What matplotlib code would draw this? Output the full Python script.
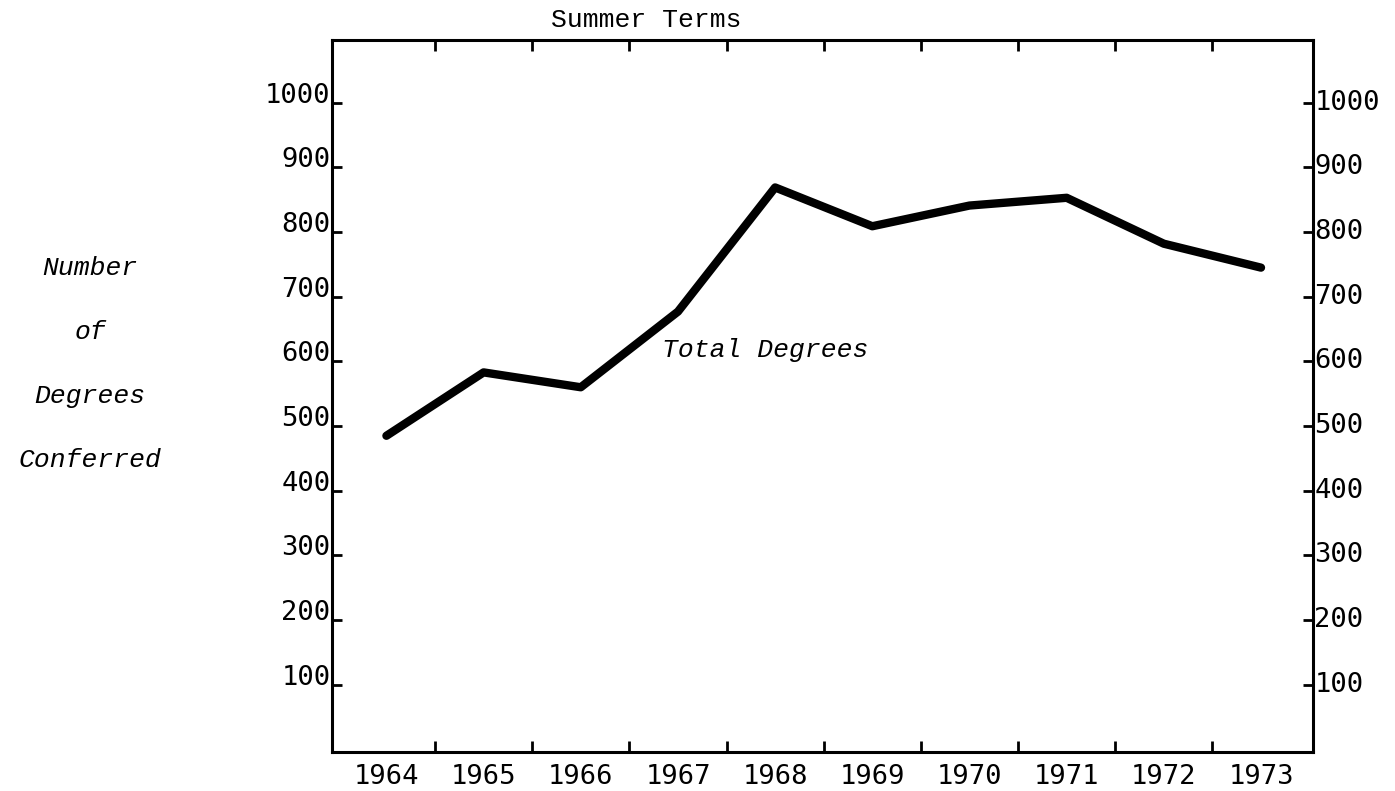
import matplotlib
matplotlib.use("Agg")
import matplotlib.pyplot as plt
import numpy as np

years = [1964, 1965, 1966, 1967, 1968, 1969, 1970, 1971, 1972, 1973]
total_degrees = [485, 583, 560, 677, 869, 809, 841, 853, 782, 745]
y_ticks = [100, 200, 300, 400, 500, 600, 700, 800, 900, 1000]
title = "Summer Terms"
series_label = "Total Degrees"
ylabel_lines = ["Number", "of", "Degrees", "Conferred"]

fig = plt.figure(figsize=(13.95, 7.91), dpi=100)
ax = fig.add_axes([332/1395, 1-752/791, (1313-332)/1395, (752-40)/791])

ax.plot(years, total_degrees, color="black", lw=6, solid_joinstyle="round", solid_capstyle="round")

ax.set_xlim(1963.44, 1973.535)
ax.set_ylim(-4, 1097)

for s in ax.spines.values():
    s.set_linewidth(2.2)

tick_family = "DejaVu Sans Mono"
tick_size = 19.5
mono = "Liberation Mono"

# x: labels at years, tick marks between years
ax.set_xticks(years)
ax.set_xticklabels([str(y) for y in years], family=tick_family, size=tick_size)
ax.tick_params(axis="x", which="major", length=0, pad=9)
ax.set_xticks([y + 0.5 for y in years[:-1]], minor=True)
ax.tick_params(axis="x", which="minor", direction="in", length=8, width=2, top=True, bottom=True)

ax.set_yticks(y_ticks)
ax.set_yticklabels([str(v) for v in y_ticks])
ax.tick_params(axis="y", which="major", direction="in", length=7, width=2,
               left=True, right=True, labelleft=True, labelright=True, pad=1)
for t in ax.yaxis.get_major_ticks():
    for lab in (t.label1, t.label2):
        lab.set_fontfamily(tick_family)
        lab.set_fontsize(tick_size)
    t.label1.set_verticalalignment("baseline")
    t.label2.set_verticalalignment("center")

fig.text(646/1395, 1-20/791, title, family=mono, size=19, ha="center", va="center")
ax.text(1966.84, 618, series_label, family=mono, style="italic", size=19, ha="left", va="center")

for txt, ypix in zip(ylabel_lines, [268, 332, 396, 460]):
    fig.text(90/1395, 1-ypix/791, txt, family=mono, style="italic", size=19, ha="center", va="center")

fig.savefig("out.png", dpi=100)
